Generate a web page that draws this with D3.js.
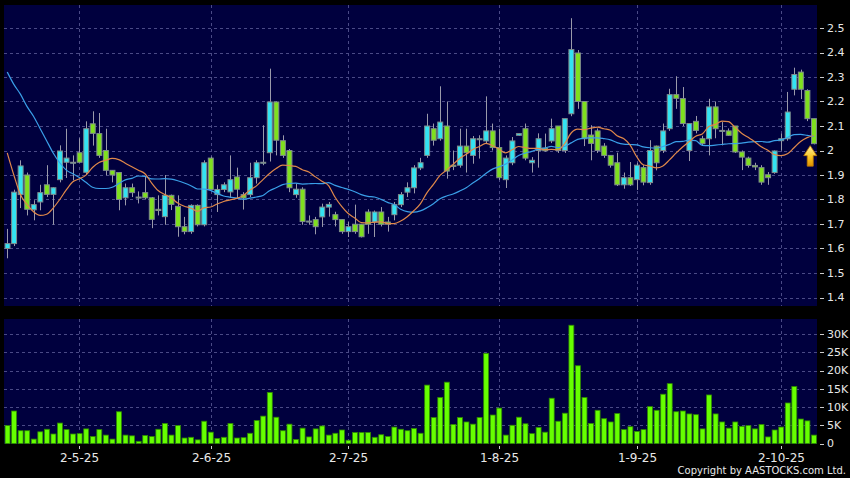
<!DOCTYPE html>
<html><head><meta charset="utf-8">
<script src="https://cdn.jsdelivr.net/npm/d3@7"></script>
<style>html,body{margin:0;padding:0;background:#000;}svg{display:block;}</style>
</head><body><svg id="c" width="850" height="478"></svg>
<script>
// ---- data ----
const opens  = [1.60,1.62,1.82,1.90,1.758,1.79,1.86,1.821,1.881,1.952,1.95,1.991,1.911,2.109,2.069,2.0,1.919,1.91,1.807,1.848,
 1.809,1.828,1.807,1.76,1.73,1.817,1.772,1.689,1.669,1.776,1.697,1.969,1.82,1.841,1.831,1.892,1.82,1.82,1.889,1.95,
 1.991,2.198,2.04,2.0,1.82,1.842,1.71,1.718,1.729,1.769,1.738,1.718,1.669,1.699,1.699,1.749,1.708,1.749,1.708,1.738,
 1.779,1.83,1.848,1.929,1.98,2.089,2.048,2.10,1.94,1.94,2.018,1.98,2.045,2.039,2.08,2.012,1.881,1.95,2.062,2.089,
 1.95,2.0,2.01,2.039,2.10,2.0,2.15,2.398,2.2,2.063,2.08,2.018,1.98,1.95,1.86,1.889,1.881,1.93,1.869,2.018,
 2.0,2.089,2.228,2.212,2.0,2.119,2.048,2.048,2.178,2.08,2.08,2.10,1.994,1.969,1.939,1.93,1.901,1.91,2.04,2.048,
 2.25,2.32,2.245,2.13];
const highs  = [1.68,1.84,1.96,1.91,1.797,1.86,1.94,1.85,2.021,2.089,1.98,2.05,2.119,2.16,2.153,2.089,1.92,1.91,1.865,1.865,
 1.833,1.892,1.81,1.817,1.90,1.82,1.817,1.729,1.78,1.78,1.96,1.975,1.86,1.87,1.98,1.93,1.83,1.95,1.96,2.103,
 2.334,2.20,2.062,2.006,1.865,1.85,1.735,1.729,1.783,1.79,1.75,1.72,1.708,1.779,1.70,1.76,1.755,1.769,1.729,1.79,
 1.83,1.87,1.94,1.97,2.15,2.11,2.262,2.20,2.0,2.089,2.089,2.059,2.062,2.221,2.11,2.089,1.98,2.055,2.07,2.11,
 1.973,2.07,2.069,2.13,2.10,2.13,2.54,2.41,2.2,2.103,2.09,2.03,1.98,1.991,1.91,1.953,1.95,1.94,2.042,2.02,
 2.11,2.252,2.303,2.259,2.11,2.141,2.06,2.211,2.20,2.116,2.09,2.10,2.0,1.975,1.95,1.94,1.912,2.0,2.069,2.239,
 2.338,2.33,2.25,2.13];
const lows   = [1.56,1.61,1.765,1.735,1.715,1.756,1.81,1.697,1.87,1.888,1.878,1.95,1.90,2.02,1.97,1.899,1.87,1.756,1.776,1.81,
 1.784,1.80,1.683,1.735,1.697,1.757,1.648,1.658,1.66,1.69,1.69,1.84,1.749,1.83,1.806,1.805,1.759,1.81,1.865,1.94,
 1.955,1.98,1.97,1.83,1.807,1.697,1.697,1.658,1.688,1.73,1.69,1.66,1.647,1.66,1.645,1.66,1.647,1.69,1.669,1.715,
 1.769,1.81,1.825,1.92,1.97,2.02,2.04,1.885,1.92,1.93,1.91,1.946,1.967,2.03,2.0,1.88,1.847,1.94,2.06,1.96,
 1.91,1.93,1.995,2.03,1.99,1.99,2.14,2.17,2.018,1.96,1.99,1.97,1.93,1.855,1.844,1.855,1.839,1.858,1.86,1.919,
 1.99,2.08,2.17,2.10,1.957,2.07,2.02,1.98,2.05,2.021,2.06,1.99,1.92,1.93,1.92,1.86,1.86,1.905,2.0,2.04,
 2.225,2.21,2.12,2.025];
const closes = [1.62,1.83,1.937,1.76,1.779,1.828,1.821,1.848,1.998,1.969,1.952,1.952,2.089,2.07,1.98,1.919,1.90,1.80,1.848,1.828,
 1.81,1.807,1.719,1.755,1.817,1.78,1.689,1.669,1.776,1.697,1.95,1.841,1.841,1.86,1.881,1.842,1.806,1.889,1.95,1.952,
 2.198,2.042,1.98,1.848,1.842,1.71,1.712,1.689,1.769,1.78,1.718,1.669,1.689,1.669,1.648,1.699,1.749,1.699,1.699,1.779,
 1.82,1.848,1.929,1.95,2.10,2.042,2.116,1.916,1.935,2.018,1.991,2.048,2.048,2.08,2.012,1.889,1.969,2.039,2.069,1.969,
 1.96,2.048,1.999,2.089,2.0,2.13,2.412,2.2,2.048,2.029,2.0,1.98,1.94,1.86,1.889,1.86,1.94,1.871,2.0,1.95,
 2.08,2.228,2.213,2.11,2.11,2.082,2.028,2.178,2.089,2.082,2.062,1.994,1.973,1.939,1.933,1.871,1.889,1.998,2.048,2.157,
 2.31,2.25,2.13,2.028];
// volume in thousands of shares
const volumes = [4.9,8.9,3.5,3.5,1.2,3.2,3.9,2.6,5.6,3.8,2.6,2.7,4.0,1.9,3.8,2.3,1.2,8.7,2.3,2.1,
 0.6,2.2,1.9,3.9,5.5,2.3,4.9,1.5,1.7,1.0,6.1,3.1,1.4,1.7,5.5,1.5,1.6,2.8,6.3,7.5,
 14.0,7.2,3.5,5.3,1.1,4.2,1.8,4.0,4.8,2.3,2.8,3.7,0.9,3.0,3.0,3.0,1.7,2.4,1.9,4.5,
 3.9,3.5,4.1,2.8,16.0,7.1,12.6,16.8,5.2,7.1,5.9,5.3,7.1,24.7,7.8,9.7,2.3,5.0,7.2,5.4,
 2.7,4.4,3.1,12.4,6.1,8.3,32.4,21.3,12.6,5.5,9.1,6.8,5.9,8.2,3.8,4.6,3.3,3.8,10.1,9.1,
 13.5,16.4,8.7,8.9,8.1,7.9,4.0,13.3,8.1,5.9,4.2,5.9,4.7,4.9,4.0,5.2,1.8,3.7,4.5,11.1,
 15.6,6.7,6.2,2.3];
// moving-average values before enough history exists
const ma10Lead = [1.99,1.90,1.82,1.78,1.75,1.735,1.74,1.765,1.80];
const ma20Lead = [2.32,2.27,2.23,2.18,2.14,2.09,2.04,1.99,1.95,1.92,1.905,1.89,1.87,1.85,1.845,1.845,1.85,1.865,1.88];
const priceTicks = [2.5,2.4,2.3,2.2,2.1,2.0,1.9,1.8,1.7,1.6,1.5,1.4];
const volTicks = [0,5,10,15,20,25,30];
const dateLabels = ["2-5-25","2-6-25","2-7-25","1-8-25","1-9-25","2-10-25"];
const dateIndex  = [11,31,52,75,96,118];

// ---- layout ----
const L=4,R=817, mT=5,mB=306, vT=319,vB=444;
const svg=d3.select("#c");
const n=closes.length;
const idx=d3.range(n);
const x=d3.scaleBand().domain(idx).range([L,R]).paddingInner(0.17).paddingOuter(0.085);
const cx=i=>x(i)+x.bandwidth()/2;
const y=d3.scaleLinear().domain([1.4,2.5]).range([297.5,28]);
const yv=d3.scaleLinear().domain([0,30]).range([443.5,334]);
const gridC="#4a4a86";

svg.append("rect").attr("width",850).attr("height",478).attr("fill","#000");
svg.append("rect").attr("x",L).attr("y",mT).attr("width",R-L).attr("height",mB-mT).attr("fill","#00003e");
svg.append("rect").attr("x",L).attr("y",vT).attr("width",R-L).attr("height",vB-vT).attr("fill","#00003e");

const grid=svg.append("g").attr("stroke",gridC).attr("stroke-dasharray","3,3").attr("stroke-width",1);
priceTicks.forEach(p=>grid.append("line").attr("x1",L).attr("x2",R).attr("y1",Math.round(y(p))+0.5).attr("y2",Math.round(y(p))+0.5));
volTicks.filter(v=>v>0).forEach(v=>grid.append("line").attr("x1",L).attr("x2",R).attr("y1",Math.round(yv(v))+0.5).attr("y2",Math.round(yv(v))+0.5));
dateIndex.forEach(i=>{
  const xx=Math.round(cx(i))+0.5;
  grid.append("line").attr("x1",xx).attr("x2",xx).attr("y1",mT).attr("y2",mB);
  grid.append("line").attr("x1",xx).attr("x2",xx).attr("y1",vT).attr("y2",vB);
});

// volume bars
svg.append("g").selectAll("rect").data(idx).join("rect")
  .attr("x",i=>x(i)+0.5).attr("width",x.bandwidth()-0.5)
  .attr("y",i=>yv(volumes[i])).attr("height",i=>yv(0)-yv(volumes[i]))
  .attr("fill","#66ff00").attr("stroke","#2f8a00").attr("stroke-width",0.8);

// candles
const cg=svg.append("g");
cg.selectAll("line").data(idx).join("line")
  .attr("x1",i=>Math.round(cx(i))+0.5).attr("x2",i=>Math.round(cx(i))+0.5)
  .attr("y1",i=>y(highs[i])).attr("y2",i=>y(lows[i]))
  .attr("stroke","#9a9aaa").attr("stroke-width",1);
cg.selectAll("rect").data(idx).join("rect")
  .attr("x",i=>x(i)+0.5).attr("width",x.bandwidth()-0.5)
  .attr("y",i=>y(Math.max(opens[i],closes[i])))
  .attr("height",i=>Math.max(1,Math.abs(y(opens[i])-y(closes[i]))))
  .attr("fill",i=>closes[i]>=opens[i]?"#33e3f2":"#7fe01e")
  .attr("stroke","#7f8c8c").attr("stroke-width",1);

// moving averages
function sma(k,lead){
  return idx.map(i=> i<lead.length ? lead[i] : d3.mean(closes.slice(i-k+1,i+1)));
}
const ma10=sma(10,ma10Lead), ma20=sma(20,ma20Lead);
const line=d3.line().x((d,i)=>cx(i)).y(d=>y(d)).curve(d3.curveMonotoneX);
svg.append("path").attr("d",line(ma20)).attr("fill","none").attr("stroke","#3a9fe8").attr("stroke-width",1.2);
svg.append("path").attr("d",line(ma10)).attr("fill","none").attr("stroke","#e0884a").attr("stroke-width",1.2);

// arrow at last candle
const ax=cx(n-1)-3.5, ay=y(closes[n-1])+2;
const defs=svg.append("defs");
const gr=defs.append("linearGradient").attr("id","ag").attr("x1",0).attr("x2",0).attr("y1",0).attr("y2",1);
gr.append("stop").attr("offset","0%").attr("stop-color","#fff3a0");
gr.append("stop").attr("offset","60%").attr("stop-color","#f7c21c");
gr.append("stop").attr("offset","100%").attr("stop-color","#e09000");
svg.append("path")
  .attr("d",`M${ax},${ay} L${ax+6.5},${ay+10} L${ax+3},${ay+10} L${ax+3},${ay+20.5} L${ax-3},${ay+20.5} L${ax-3},${ay+10} L${ax-6.5},${ay+10} Z`)
  .attr("fill","url(#ag)").attr("stroke","#c07800").attr("stroke-width",0.8);

// right axes
const tc="#e8e8e8", font="DejaVu Sans";
const ra=svg.append("g").attr("font-family",font).attr("font-size",11).attr("fill",tc);
priceTicks.forEach(p=>{
  ra.append("line").attr("x1",820).attr("x2",824).attr("y1",Math.round(y(p))+0.5).attr("y2",Math.round(y(p))+0.5).attr("stroke","#cccccc");
  ra.append("text").attr("x",827).attr("y",y(p)).attr("dy","0.36em").text(d3.format(".1f")(p).replace(/\.0$/,""));
});
volTicks.forEach(v=>{
  ra.append("line").attr("x1",820).attr("x2",824).attr("y1",Math.round(yv(v))+0.5).attr("y2",Math.round(yv(v))+0.5).attr("stroke","#cccccc");
  ra.append("text").attr("x",827).attr("y",yv(v)).attr("dy","0.36em").text(v===0?"0":v+"K");
});
// date axis
const da=svg.append("g").attr("font-family",font).attr("font-size",12).attr("fill",tc).attr("text-anchor","middle");
dateIndex.forEach((i,k)=>{
  const xx=Math.round(cx(i))+0.5;
  da.append("line").attr("x1",xx).attr("x2",xx).attr("y1",446).attr("y2",449).attr("stroke","#cccccc");
  da.append("text").attr("x",xx).attr("y",462).text(dateLabels[k]);
});
svg.append("text").attr("x",846).attr("y",474).attr("text-anchor","end").attr("font-family",font)
  .attr("font-size",10).attr("fill",tc).text("Copyright by AASTOCKS.com Ltd.");
</script></body></html>
